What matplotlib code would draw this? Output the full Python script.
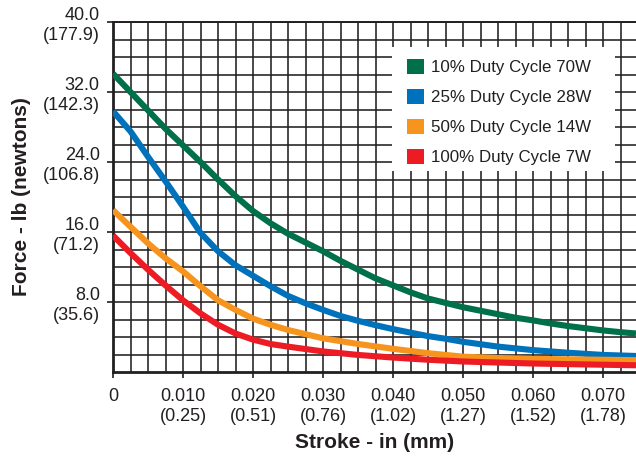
import matplotlib
matplotlib.use("Agg")
import matplotlib.pyplot as plt
from matplotlib.patches import Patch, Rectangle

plt.rcParams['font.family'] = ['Liberation Sans', 'DejaVu Sans']

# ---- data ----
x_green = [0, 0.0025, 0.005, 0.0075, 0.01, 0.0125, 0.015, 0.0175, 0.02, 0.0225,
           0.025, 0.0275, 0.03, 0.0325, 0.035, 0.0375, 0.04, 0.0425, 0.045, 0.0475,
           0.05, 0.0525, 0.055, 0.0575, 0.06, 0.0625, 0.065, 0.0675, 0.07, 0.0725, 0.0747]
y_green = [34.1, 32.0, 29.9, 27.8, 25.9, 24.0, 22.0, 20.1, 18.4, 17.0,
           15.8, 14.8, 13.8, 12.7, 11.7, 10.7, 9.9, 9.1, 8.4, 7.9,
           7.4, 7.0, 6.6, 6.2, 5.9, 5.55, 5.25, 5.0, 4.75, 4.55, 4.4]

x_blue = [0, 0.0025, 0.005, 0.0075, 0.01, 0.0125, 0.015, 0.0175, 0.02, 0.0225,
          0.025, 0.0275, 0.03, 0.0325, 0.035, 0.0375, 0.04, 0.0425, 0.045, 0.0475,
          0.05, 0.055, 0.06, 0.065, 0.07, 0.0747]
y_blue = [29.8, 27.5, 24.6, 21.8, 18.9, 15.9, 13.8, 12.2, 11.0, 9.8,
          8.7, 7.85, 7.1, 6.4, 5.85, 5.35, 4.9, 4.5, 4.1, 3.8,
          3.45, 2.9, 2.5, 2.2, 1.95, 1.83]

x_orange = [0, 0.0025, 0.005, 0.0075, 0.01, 0.0125, 0.015, 0.0175, 0.02, 0.0225,
            0.025, 0.03, 0.035, 0.04, 0.045, 0.05, 0.055, 0.06, 0.065, 0.07, 0.0747]
y_orange = [18.5, 16.6, 14.7, 13.0, 11.5, 9.8, 8.2, 7.1, 6.1, 5.4,
            4.8, 3.85, 3.2, 2.65, 2.15, 1.75, 1.6, 1.5, 1.45, 1.4, 1.35]

x_red = [0, 0.0025, 0.005, 0.0075, 0.01, 0.0125, 0.015, 0.0175, 0.02, 0.0225,
         0.025, 0.03, 0.035, 0.04, 0.045, 0.05, 0.06, 0.07, 0.0747]
y_red = [15.6, 13.6, 11.7, 9.9, 8.2, 6.7, 5.4, 4.4, 3.7, 3.2,
         2.9, 2.35, 1.95, 1.65, 1.4, 1.2, 0.97, 0.83, 0.77]

labels = ["10% Duty Cycle 70W", "25% Duty Cycle 28W",
          "50% Duty Cycle 14W", "100% Duty Cycle 7W"]
colors = ["#00704A", "#0072BC", "#F7941D", "#ED1C24"]

xticks = [0, 0.01, 0.02, 0.03, 0.04, 0.05, 0.06, 0.07]
xticklabels = ["0", "0.010\n(0.25)", "0.020\n(0.51)", "0.030\n(0.76)", "0.040\n(1.02)",
               "0.050\n(1.27)", "0.060\n(1.52)", "0.070\n(1.78)"]
yticks = [8, 16, 24, 32, 40]
yticklabels = ["8.0\n(35.6)", "16.0\n(71.2)", "24.0\n(106.8)", "32.0\n(142.3)", "40.0\n(177.9)"]

# ---- figure ----
ink = "#231F20"
fig = plt.figure(figsize=(6.36, 4.57), dpi=100)
ax = fig.add_axes([113/636, 85/457, 523/636, 350/457])

# grid every 0.0025 in x and 2 lb in y
for gx in [i * 0.0025 for i in range(1, 30)]:
    ax.axvline(gx, color=ink, lw=1.15, zorder=1)
for gy in range(2, 41, 2):
    ax.axhline(gy, color=ink, lw=1.15, zorder=1)

series = [(x_green, y_green), (x_blue, y_blue), (x_orange, y_orange), (x_red, y_red)]
for (xs, ys), c in zip(series, colors):
    ax.plot(xs, ys, color=c, lw=4.4, solid_capstyle='butt', zorder=3)

ax.set_xlim(0, 0.0747)
ax.set_ylim(0, 40)
ax.set_xticks(xticks)
ax.set_xticklabels(xticklabels)
ax.set_yticks(yticks)
ax.set_yticklabels(yticklabels)
ax.tick_params(axis='both', labelsize=13, colors=ink, length=4.5, width=1.2, direction='out')
ax.tick_params(axis='x', pad=7)
ax.tick_params(axis='y', pad=5)

for s in ['left', 'bottom']:
    ax.spines[s].set_linewidth(2)
    ax.spines[s].set_color(ink)
ax.spines['top'].set_linewidth(1.4)
ax.spines['top'].set_color(ink)
ax.spines['right'].set_visible(False)

ax.set_xlabel("Stroke - in (mm)", fontsize=15, fontweight='bold', color=ink, labelpad=6)
ax.set_ylabel("Force - lb (newtons)", fontsize=15, fontweight='bold', color=ink, labelpad=8)

# legend box
ax.add_patch(Rectangle((0.5335, 0.5743), 0.4264, 0.3543, transform=ax.transAxes,
                       facecolor='white', edgecolor='none', zorder=4))
handles = [Patch(facecolor=c, edgecolor='none') for c in colors]
leg = ax.legend(handles, labels, loc='upper left', bbox_to_anchor=(0.562, 0.895),
                frameon=False, fontsize=12.2, handlelength=1.0, handleheight=1.0,
                handletextpad=0.4, labelspacing=0.8, borderpad=0, borderaxespad=0)
leg.set_zorder(5)
for t in leg.get_texts():
    t.set_color(ink)

fig.savefig("out.png", dpi=100)
